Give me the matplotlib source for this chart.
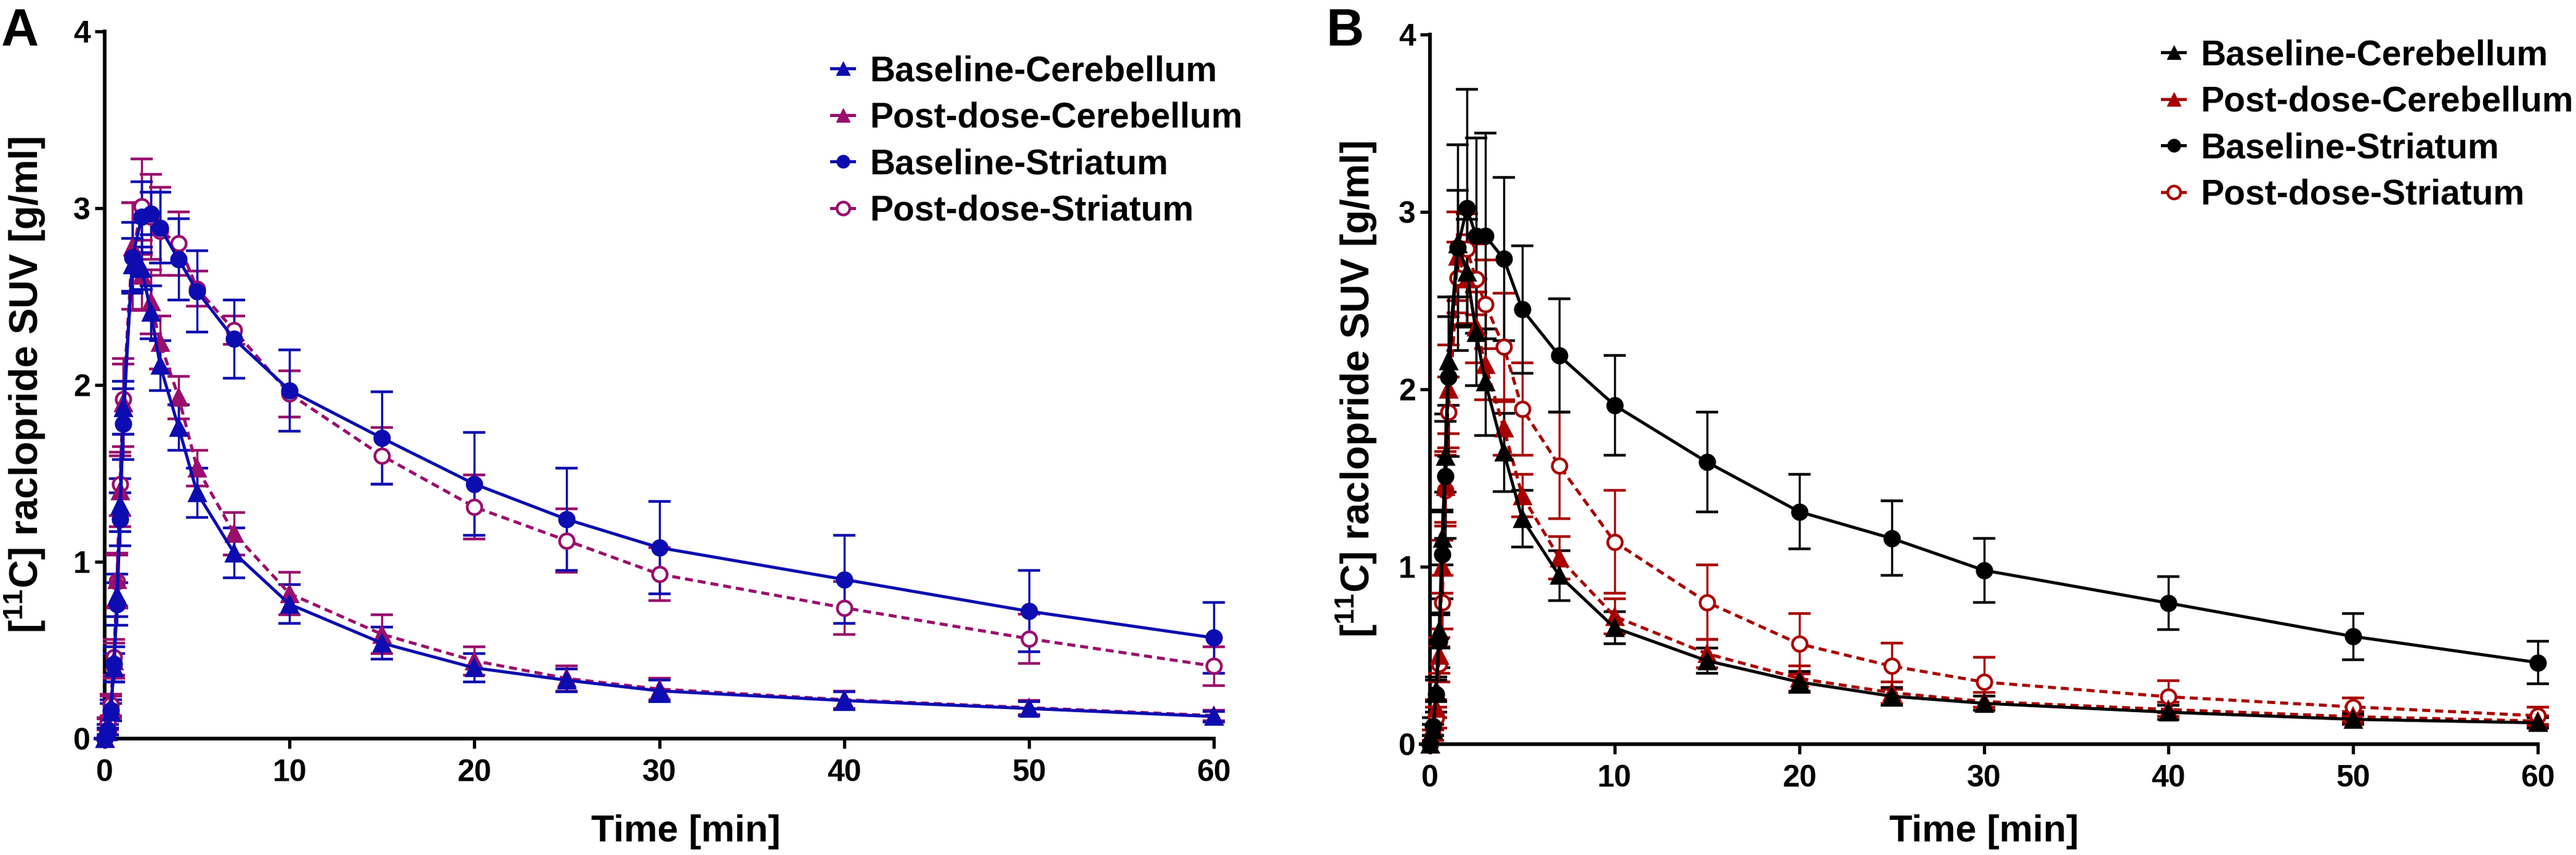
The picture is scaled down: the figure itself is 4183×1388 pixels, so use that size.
import matplotlib
matplotlib.use("Agg")
import matplotlib.pyplot as plt
from matplotlib.lines import Line2D

# sampling times (min)
t = [0, 0.17, 0.33, 0.5, 0.67, 0.83, 1.0, 1.5, 2, 2.5, 3, 4, 5, 7,
     10, 15, 20, 25, 30, 40, 50, 60]

# panel A
a_bl_cer = [0, 0.04, 0.15, 0.40, 0.81, 1.32, 1.87, 2.68, 2.66, 2.41, 2.11, 1.76, 1.39, 1.05,
            0.76, 0.54, 0.40, 0.33, 0.27, 0.215, 0.17, 0.125]
a_bl_cer_sd = [0, 0.02, 0.05, 0.08, 0.12, 0.15, 0.15, 0.15, 0.12, 0.15, 0.14, 0.13, 0.14, 0.14,
               0.11, 0.09, 0.08, 0.065, 0.06, 0.05, 0.04, 0.03]
a_pd_cer = [0, 0.08, 0.18, 0.44, 0.90, 1.40, 1.90, 2.78, 2.62, 2.47, 2.24, 1.93, 1.53, 1.16,
            0.82, 0.59, 0.44, 0.34, 0.28, 0.22, 0.175, 0.13]
a_pd_cer_sd = [0, 0.03, 0.06, 0.10, 0.15, 0.20, 0.25, 0.25, 0.20, 0.18, 0.15, 0.12, 0.10, 0.12,
               0.12, 0.11, 0.08, 0.07, 0.06, 0.05, 0.04, 0.03]
a_bl_str = [0, 0.05, 0.16, 0.42, 0.76, 1.24, 1.78, 2.72, 2.95, 2.97, 2.89, 2.71, 2.53, 2.26,
            1.97, 1.70, 1.44, 1.24, 1.08, 0.90, 0.72, 0.57]
a_bl_str_sd = [0, 0.03, 0.06, 0.10, 0.12, 0.15, 0.20, 0.20, 0.20, 0.12, 0.20, 0.23, 0.23, 0.22,
               0.23, 0.26, 0.29, 0.29, 0.26, 0.25, 0.23, 0.20]
a_pd_str = [0, 0.09, 0.19, 0.46, 0.89, 1.44, 1.92, 2.73, 3.01, 2.95, 2.87, 2.80, 2.545, 2.31,
            1.95, 1.60, 1.31, 1.12, 0.93, 0.74, 0.565, 0.41]
a_pd_str_sd = [0, 0.03, 0.06, 0.10, 0.15, 0.18, 0.20, 0.30, 0.27, 0.24, 0.25, 0.18, 0.10, 0.08,
               0.13, 0.16, 0.18, 0.18, 0.15, 0.15, 0.14, 0.11]

# panel B
b_bl_cer = [0, 0.08, 0.30, 0.64, 1.16, 1.62, 2.16, 2.82, 2.66, 2.32, 2.04, 1.645, 1.27, 0.95,
            0.656, 0.47, 0.35, 0.27, 0.23, 0.18, 0.14, 0.12]
b_bl_cer_sd = [0, 0.03, 0.06, 0.10, 0.15, 0.20, 0.25, 0.30, 0.30, 0.30, 0.30, 0.22, 0.16, 0.14,
               0.09, 0.07, 0.06, 0.05, 0.04, 0.04, 0.03, 0.03]
b_pd_cer = [0, 0.08, 0.20, 0.50, 1.00, 1.45, 2.00, 2.75, 2.62, 2.35, 2.14, 1.78, 1.40, 1.05,
            0.72, 0.51, 0.37, 0.29, 0.24, 0.195, 0.155, 0.13]
b_pd_cer_sd = [0, 0.03, 0.05, 0.10, 0.15, 0.20, 0.25, 0.25, 0.25, 0.20, 0.20, 0.15, 0.12, 0.12,
               0.10, 0.08, 0.07, 0.06, 0.05, 0.04, 0.03, 0.03]
b_bl_str = [0, 0.10, 0.28, 0.58, 1.07, 1.51, 2.07, 2.80, 3.02, 2.865, 2.865, 2.735, 2.45, 2.19,
            1.91, 1.59, 1.31, 1.16, 0.98, 0.795, 0.607, 0.46]
b_bl_str_sd = [0, 0.05, 0.10, 0.15, 0.25, 0.35, 0.45, 0.58, 0.67, 0.55, 0.58, 0.46, 0.36, 0.32,
               0.28, 0.28, 0.21, 0.21, 0.18, 0.15, 0.13, 0.12]
b_pd_str = [0, 0.05, 0.15, 0.45, 0.80, 1.43, 1.87, 2.63, 2.79, 2.62, 2.48, 2.24, 1.89, 1.57,
            1.14, 0.80, 0.565, 0.44, 0.35, 0.267, 0.21, 0.16]
b_pd_str_sd = [0, 0.03, 0.06, 0.10, 0.15, 0.20, 0.20, 0.20, 0.20, 0.20, 0.25, 0.30, 0.26, 0.30,
               0.29, 0.21, 0.17, 0.13, 0.14, 0.09, 0.05, 0.05]

labels = ["Baseline-Cerebellum", "Post-dose-Cerebellum", "Baseline-Striatum", "Post-dose-Striatum"]
x_ticks = [0, 10, 20, 30, 40, 50, 60]
y_ticks = [0, 1, 2, 3, 4]

BLUE = "#0c0cb0"
MAGENTA = "#9a0f6c"
RED = "#a80000"
BLACK = "#000000"

plt.rcParams["font.family"] = ["Liberation Sans", "DejaVu Sans"]
plt.rcParams["font.weight"] = "bold"
plt.rcParams["mathtext.fontset"] = "custom"
plt.rcParams["mathtext.rm"] = "Liberation Sans:bold"
plt.rcParams["mathtext.bf"] = "Liberation Sans:bold"
plt.rcParams["mathtext.default"] = "bf"

W, H = 4183, 1388
fig = plt.figure(figsize=(W / 100, H / 100), dpi=100)


def rect(x0, x1, ytop, ybot):
    return [x0 / W, 1 - ybot / H, (x1 - x0) / W, (ybot - ytop) / H]


def draw_series(ax, y, sd, color, marker, dashed, filled):
    ls = (0, (2.6, 1.6)) if dashed else "-"
    ax.errorbar(t, y, yerr=sd, color=color, ls=ls, lw=3.6, marker=marker,
                ms=17 if marker == "o" else 18,
                mfc=color if filled else "white", mec=color, mew=3.2,
                elinewidth=2.5, capsize=13, capthick=2.5, clip_on=False, zorder=3)


def style_axes(ax, xlab_x, xlab_y, ylab_x):
    for s in ["top", "right"]:
        ax.spines[s].set_visible(False)
    for s in ["left", "bottom"]:
        ax.spines[s].set_linewidth(4.3)
    ax.set_xlim(0, 60)
    ax.set_ylim(0, 4)
    ax.set_xticks(x_ticks)
    ax.set_yticks(y_ticks)
    ax.tick_params(axis="both", width=3.8, length=11.5, labelsize=36)
    ax.tick_params(axis="x", pad=12)
    ax.tick_params(axis="y", pad=5)
    for lab in ax.get_xticklabels() + ax.get_yticklabels():
        lab.set_fontweight("bold")
    ax.set_xlabel("Time [min]", fontsize=44, fontweight="bold")
    ax.set_ylabel("[$^{11}$C] raclopride SUV [g/ml]", fontsize=46, fontweight="bold")
    ax.xaxis.set_label_coords(xlab_x, xlab_y)
    ax.yaxis.set_label_coords(ylab_x, 0.5)


def add_legend(ax, colors, anchor):
    handles = [
        Line2D([], [], color=colors[0], marker="^", ls="-", lw=3.6, ms=16, mec=colors[0]),
        Line2D([], [], color=colors[1], marker="^", ls="-", lw=3.6, ms=16, mec=colors[1]),
        Line2D([], [], color=colors[2], marker="o", ls="-", lw=3.6, ms=15, mec=colors[2]),
        Line2D([], [], color=colors[3], marker="o", ls="-", lw=3.6, ms=15, mec=colors[3],
               mfc="white", mew=3.2),
    ]
    ax.legend(handles, labels, loc="upper left", bbox_to_anchor=anchor,
              bbox_transform=fig.transFigure, frameon=False,
              prop={"weight": "bold", "size": 41}, handlelength=0.65,
              handletextpad=0.45, labelspacing=0.38, borderpad=0, borderaxespad=0)


# panel A
axA = fig.add_axes(rect(170, 1971, 51, 1199))
draw_series(axA, a_pd_str, a_pd_str_sd, MAGENTA, "o", True, False)
draw_series(axA, a_pd_cer, a_pd_cer_sd, MAGENTA, "^", True, True)
draw_series(axA, a_bl_str, a_bl_str_sd, BLUE, "o", False, True)
draw_series(axA, a_bl_cer, a_bl_cer_sd, BLUE, "^", False, True)
style_axes(axA, (1114 - 170) / 1801, -(1322 - 1199) / 1148, (77 - 170) / 1801)
add_legend(axA, [BLUE, MAGENTA, BLUE, MAGENTA], (1350 / W, 1 - 89 / H))

# panel B
axB = fig.add_axes(rect(2322, 4121, 56, 1208))
draw_series(axB, b_pd_str, b_pd_str_sd, RED, "o", True, False)
draw_series(axB, b_pd_cer, b_pd_cer_sd, RED, "^", True, True)
draw_series(axB, b_bl_str, b_bl_str_sd, BLACK, "o", False, True)
draw_series(axB, b_bl_cer, b_bl_cer_sd, BLACK, "^", False, True)
style_axes(axB, 0.5, -(1322 - 1208) / 1152, (2239 - 2322) / 1799)
add_legend(axB, [BLACK, RED, BLACK, RED], (3511 / W, 1 - 63 / H))

fig.text(2 / W, 1 - 74 / H, "A", fontsize=61, fontweight="bold", va="baseline", ha="left")
fig.text(2153 / W, 1 - 74 / H, "B", fontsize=61, fontweight="bold", va="baseline", ha="left")

fig.savefig("out.png", dpi=100)
